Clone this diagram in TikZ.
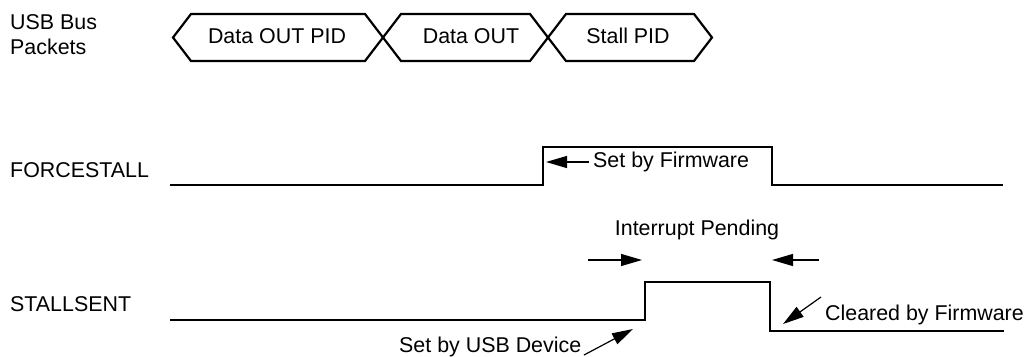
\documentclass[tikz,border=0pt]{standalone}
\usepackage{fontspec}
\setmainfont{Liberation Sans}
\usetikzlibrary{arrows.meta}
\begin{document}
\begin{tikzpicture}[x=1pt,y=-1pt,
  sig/.style={line width=2.4pt, line join=miter, line cap=butt},
  pkt/.style={line width=2.2pt, line join=miter},
  lbl/.style={font=\fontsize{21.4}{25}\selectfont, inner sep=0pt},
  arr/.style={line width=1.2pt, -{Triangle[length=21pt,width=12pt]}}]
\useasboundingbox (0,0) rectangle (1024,356);

% left labels
\node[lbl, anchor=base west] (usbbus) at (10,29) {USB Bus};
\node[lbl, anchor=base west] (packets) at (10,54) {Packets};
\node[lbl, anchor=base west] (forcestall) at (10,177) {FORCESTALL};
\node[lbl, anchor=base west] (stallsent) at (10,311) {STALLSENT};

% packet hexagons
\draw[pkt] (173,37.5) -- (191,14) -- (365,14) -- (401,61) -- (530,61) -- (566,14)
  -- (694,14) -- (712,37.5) -- (694,61) -- (566,61) -- (530,14) -- (401,14)
  -- (365,61) -- (191,61) -- cycle;
\node[lbl, anchor=base] (p1) at (277,43) {Data OUT PID};
\node[lbl, anchor=base] (p2) at (471,43) {Data OUT};
\node[lbl, anchor=base] (p3) at (628,43) {Stall PID};

% FORCESTALL signal
\draw[sig] (170,185) -- (543,185) -- (543,147) -- (772,147) -- (772,185) -- (1003,185);
\node[lbl, anchor=base west] (sbf) at (593,167) {Set by Firmware};
\coordinate (sbftip) at (546,162);
\draw[arr] (sbf.west |- sbftip) ++(-4,0) coordinate (sbftail) (sbftail) -- (sbftip);

% Interrupt pending
\node[lbl, anchor=base] (ip) at (697,235) {Interrupt Pending};
\coordinate (ipl) at (588,260);
\coordinate (iplt) at (642,260);
\coordinate (ipr) at (819,260);
\coordinate (iprt) at (772,260);
\draw[arr] (ipl) -- (iplt);
\draw[arr] (ipr) -- (iprt);

% STALLSENT signal
\draw[sig] (170,320) -- (645,320) -- (645,282) -- (770,282) -- (770,331) -- (1004,331);
\node[lbl, anchor=base west] (sbu) at (399,352) {Set by USB Device};
\coordinate (sbutail) at (584,355);
\coordinate (sbutip) at (633,329);
\draw[arr] (sbutail) -- (sbutip);
\node[lbl, anchor=base west] (cbf) at (825,320) {Cleared by Firmware};
\coordinate (cbftail) at (821,297);
\coordinate (cbftip) at (783,324);
\draw[arr] (cbftail) -- (cbftip);
\end{tikzpicture}
\end{document}
